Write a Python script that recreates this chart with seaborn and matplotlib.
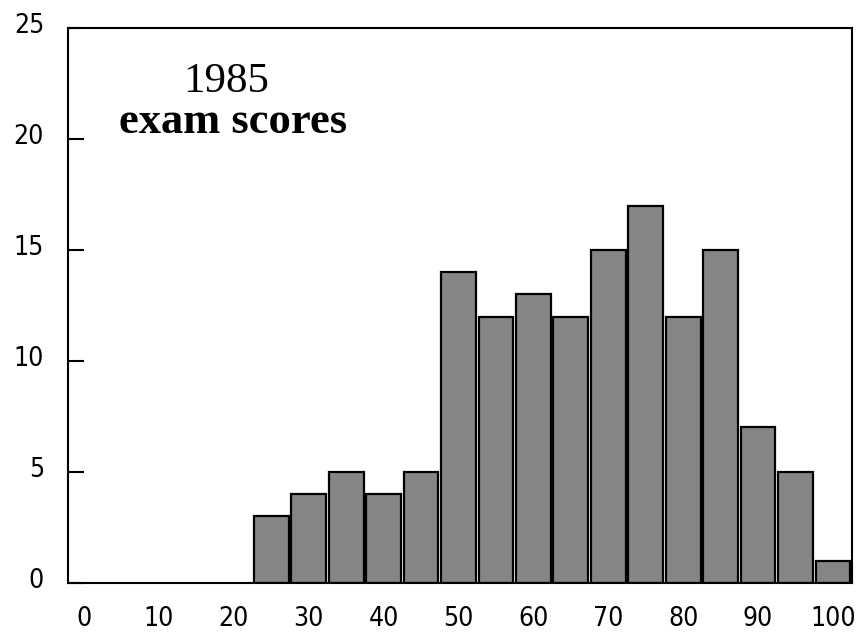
import matplotlib
matplotlib.use("Agg")
import matplotlib.pyplot as plt
import matplotlib.transforms as mtransforms
import seaborn as sns
import pandas as pd

# Data
scores = [25, 30, 35, 40, 45, 50, 55, 60, 65, 70, 75, 80, 85, 90, 95, 100]
counts = [3, 4, 5, 4, 5, 14, 12, 13, 12, 15, 17, 12, 15, 7, 5, 1]
x_ticks = [0, 10, 20, 30, 40, 50, 60, 70, 80, 90, 100]
y_ticks = [0, 5, 10, 15, 20, 25]
title_year = "1985"
title_sub = "exam scores"

df = pd.DataFrame({"score": scores, "count": counts})

sns.set_style("white")
plt.rcParams["font.family"] = ["DejaVu Sans"]
plt.rcParams["font.stretch"] = "condensed"

fig = plt.figure(figsize=(8.57, 6.33), dpi=100)
ax = fig.add_axes([67.7 / 857, 1 - 582.7 / 633, (851.7 - 67.7) / 857, (582.7 - 28.3) / 633])

sns.barplot(data=df, x="score", y="count", native_scale=True, width=0.93,
            color="#858585", saturation=1, edgecolor="black", linewidth=1.6,
            ax=ax)

ax.set_xlim(-2.18, 102.5)
ax.set_ylim(0, 25)
ax.set_xticks(x_ticks)
ax.set_yticks(y_ticks)
ax.set_xticklabels([str(v) for v in x_ticks])
ax.set_yticklabels([str(v) for v in y_ticks])
ax.set_xlabel("")
ax.set_ylabel("")

for s in ax.spines.values():
    s.set_visible(True)
    s.set_linewidth(1.5)
    s.set_color("black")

ax.tick_params(axis="y", direction="in", length=11.5, width=1.5, pad=17,
               labelsize=19, colors="black", right=False, left=True)
ax.tick_params(axis="x", length=0, pad=17, labelsize=19, colors="black")

offset = mtransforms.ScaledTranslation(0, 5 / 100, fig.dpi_scale_trans)
for lab in ax.get_yticklabels():
    lab.set_transform(lab.get_transform() + offset)

ax.text(19.0, 22.6, title_year, family="Liberation Serif", fontsize=31,
        ha="center", va="center", color="black")
ax.text(19.9, 20.3, title_sub, family="Liberation Serif", fontweight="bold",
        fontsize=32, ha="center", va="baseline", color="black")

fig.savefig("out.png", dpi=100)
